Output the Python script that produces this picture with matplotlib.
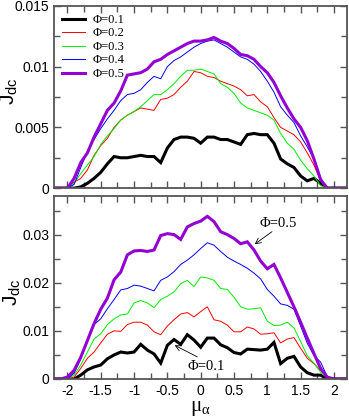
import matplotlib
matplotlib.use("Agg")
import matplotlib.pyplot as plt
import numpy as np
from matplotlib.ticker import MultipleLocator, FuncFormatter

plt.rcParams['font.family'] = ['Liberation Sans', 'DejaVu Sans']
plt.rcParams['axes.unicode_minus'] = False

# chemical potential grid, -2.2 .. 2.2 in steps of 0.1
mu = np.round(np.arange(-2.2, 2.2001, 0.1), 2)

labels = ["Φ=0.1", "Φ=0.2", "Φ=0.3", "Φ=0.4", "Φ=0.5"]
colors = ["black", "#ff0000", "#00ee00", "#0000ff", "#9400d3"]
widths = [2.2, 0.7, 0.7, 0.7, 2.2]

# upper panel
top_01 = [0, 0, 0, 0, 0.0001, 0.0004, 0.0008, 0.0013, 0.0020, 0.0026, 0.0025,
          0.0025, 0.0026, 0.0027, 0.0026, 0.0026, 0.0021, 0.0033, 0.0040, 0.0042,
          0.0042, 0.0041, 0.0037, 0.0042, 0.0042, 0.0040, 0.0040, 0.0038, 0.0036,
          0.0044, 0.0045, 0.0044, 0.0044, 0.0037, 0.0024, 0.0020, 0.0017, 0.0010,
          0.0006, 0.0008, 0.0004, 0, 0, 0, 0]
top_02 = [0, 0, 0, 0.0005, 0.0008, 0.0015, 0.0027, 0.0035, 0.0041, 0.0050, 0.0056,
          0.0060, 0.0063, 0.0066, 0.0065, 0.0064, 0.0073, 0.0074, 0.0077, 0.0083,
          0.0088, 0.0096, 0.0095, 0.0092, 0.0091, 0.0088, 0.0086, 0.0084, 0.0081,
          0.0076, 0.0077, 0.0071, 0.0067, 0.0058, 0.0050, 0.0047, 0.0044, 0.0038,
          0.0029, 0.0019, 0.0006, 0, 0, 0, 0]
top_03 = [0, 0, 0, 0.0004, 0.0012, 0.0019, 0.0026, 0.0036, 0.0043, 0.0049, 0.0056,
          0.0060, 0.0063, 0.0067, 0.0072, 0.0077, 0.0077, 0.0081, 0.0086, 0.0092,
          0.0097, 0.0097, 0.0098, 0.0096, 0.0094, 0.0086, 0.0083, 0.0078, 0.0070,
          0.0066, 0.0064, 0.0062, 0.0060, 0.0056, 0.0045, 0.0037, 0.0032, 0.0023,
          0.0016, 0.0010, 0.0002, 0, 0, 0, 0]
top_04 = [0, 0, 0, 0.0003, 0.0017, 0.0030, 0.0040, 0.0049, 0.0057, 0.0064, 0.0072,
          0.0077, 0.0078, 0.0081, 0.0087, 0.0092, 0.0090, 0.0100, 0.0105, 0.0108,
          0.0112, 0.0116, 0.0119, 0.0121, 0.0122, 0.0119, 0.0116, 0.0112, 0.0108,
          0.0106, 0.0102, 0.0096, 0.0088, 0.0079, 0.0067, 0.0060, 0.0054, 0.0043,
          0.0034, 0.0024, 0.0008, 0, 0, 0, 0]
top_05 = [0, 0, 0, 0.0008, 0.0021, 0.0029, 0.0042, 0.0053, 0.0064, 0.0070, 0.0080,
          0.0093, 0.0094, 0.0095, 0.0098, 0.0104, 0.0106, 0.0110, 0.0113, 0.0116,
          0.0119, 0.0121, 0.0121, 0.0122, 0.0124, 0.0121, 0.0119, 0.0115, 0.0110,
          0.0109, 0.0106, 0.0100, 0.0095, 0.0087, 0.0076, 0.0066, 0.0057, 0.0050,
          0.0039, 0.0024, 0.0007, 0, 0, 0, 0]

# lower panel
bot_01 = [0, 0, 0, 0, 0.0008, 0.0019, 0.0025, 0.0029, 0.0042, 0.0050, 0.0056,
          0.0054, 0.0056, 0.0072, 0.0060, 0.0052, 0.0033, 0.0070, 0.0082, 0.0072,
          0.0092, 0.0081, 0.0066, 0.0085, 0.0085, 0.0071, 0.0065, 0.0055, 0.0052,
          0.0062, 0.0061, 0.0060, 0.0062, 0.0076, 0.0032, 0.0043, 0.0047, 0.0025,
          0.0013, 0.0008, 0.0008, 0, 0, 0, 0]
bot_02 = [0, 0, 0, 0.0004, 0.0022, 0.0043, 0.0056, 0.0075, 0.0093, 0.0100, 0.0099,
          0.0113, 0.0118, 0.0118, 0.0112, 0.0098, 0.0092, 0.0110, 0.0123, 0.0135,
          0.0138, 0.0129, 0.0140, 0.0150, 0.0123, 0.0120, 0.0112, 0.0098, 0.0098,
          0.0108, 0.0104, 0.0093, 0.0094, 0.0096, 0.0075, 0.0083, 0.0086, 0.0064,
          0.0043, 0.0032, 0.0018, 0.0005, 0, 0, 0]
bot_03 = [0, 0, 0, 0.0008, 0.0029, 0.0056, 0.0083, 0.0094, 0.0113, 0.0125, 0.0133,
          0.0135, 0.0158, 0.0163, 0.0158, 0.0148, 0.0165, 0.0172, 0.0181, 0.0198,
          0.0205, 0.0192, 0.0212, 0.0210, 0.0205, 0.0188, 0.0186, 0.0170, 0.0150,
          0.0145, 0.0146, 0.0148, 0.0120, 0.0111, 0.0112, 0.0118, 0.0106, 0.0078,
          0.0048, 0.0033, 0.0014, 0.0002, 0, 0, 0]
bot_04 = [0, 0, 0, 0.0012, 0.0042, 0.0083, 0.0113, 0.0125, 0.0146, 0.0165, 0.0185,
          0.0188, 0.0195, 0.0193, 0.0188, 0.0183, 0.0205, 0.0212, 0.0223, 0.0238,
          0.0247, 0.0258, 0.0271, 0.0283, 0.0278, 0.0265, 0.0253, 0.0245, 0.0238,
          0.0230, 0.0220, 0.0208, 0.0186, 0.0172, 0.0156, 0.0153, 0.0145, 0.0110,
          0.0074, 0.0049, 0.0035, 0.0005, 0, 0, 0]
bot_05 = [0, 0, 0.0004, 0.0018, 0.0045, 0.0080, 0.0115, 0.0145, 0.0168, 0.0206, 0.0222,
          0.0258, 0.0266, 0.0267, 0.0265, 0.0268, 0.0298, 0.0302, 0.0300, 0.0290,
          0.0316, 0.0323, 0.0328, 0.0338, 0.0327, 0.0306, 0.0300, 0.0292, 0.0281,
          0.0285, 0.0268, 0.0245, 0.0229, 0.0238, 0.0210, 0.0180, 0.0150, 0.0118,
          0.0085, 0.0053, 0.0022, 0.0004, 0, 0, 0]

top_series = [top_01, top_02, top_03, top_04, top_05]
bot_series = [bot_01, bot_02, bot_03, bot_04, bot_05]

frame = '#555555'
serif = ['Liberation Serif', 'DejaVu Serif']
fmt = FuncFormatter(lambda v, p: f'{v:g}')

fig = plt.figure(figsize=(3.49, 4.19), dpi=100)
ax1 = fig.add_axes([0.155, 0.551, 0.84, 0.435])
ax2 = fig.add_axes([0.155, 0.0955, 0.84, 0.4365])

for ax, series in ((ax1, top_series), (ax2, bot_series)):
    for y, c, lw, lab in zip(series, colors, widths, labels):
        ax.plot(mu, y, color=c, lw=lw, label=lab, solid_joinstyle='miter')
    ax.set_xlim(-2.2, 2.2)
    ax.xaxis.set_major_locator(MultipleLocator(0.5))
    ax.xaxis.set_minor_locator(MultipleLocator(0.25))
    ax.tick_params(which='both', direction='in', top=True, right=True,
                   colors=frame, labelcolor='black', labelsize=10, width=1.0)
    ax.tick_params(which='major', length=5)
    ax.tick_params(which='minor', length=4)
    ax.xaxis.set_major_formatter(fmt)
    ax.yaxis.set_major_formatter(fmt)
    for s in ax.spines.values():
        s.set_color(frame)
        s.set_linewidth(1.3)

ax1.set_ylim(0, 0.015)
ax1.yaxis.set_major_locator(MultipleLocator(0.005))
ax1.yaxis.set_minor_locator(MultipleLocator(0.0025))
ax1.tick_params(labelbottom=False)

ax2.set_ylim(0, 0.038)
ax2.yaxis.set_major_locator(MultipleLocator(0.01))
ax2.yaxis.set_minor_locator(MultipleLocator(0.005))

ax1.set_ylabel(r'$\mathregular{J_{dc}}$', fontsize=15)
ax1.yaxis.set_label_coords(-0.115, 0.53)
ax2.set_ylabel(r'$\mathregular{J_{dc}}$', fontsize=15)
ax2.yaxis.set_label_coords(-0.105, 0.475)
ax2.set_xlabel(r'$\mathregular{μ_{α}}$', fontsize=15, labelpad=1, family=serif)

ax1.legend(loc='upper left', frameon=False, handlelength=1.8, handletextpad=0.6,
           labelspacing=0.12, borderaxespad=0.25,
           prop={'family': serif, 'size': 9})

arrow = dict(arrowstyle='->', lw=0.6, color='black', shrinkA=0, shrinkB=0)
ax2.annotate('', xy=(0.81, 0.0280), xytext=(1.07, 0.0306), arrowprops=arrow)
ax2.text(0.88, 0.0323, 'Φ=0.5', family=serif, fontsize=10.5, va='center', ha='left')
ax2.annotate('', xy=(-0.39, 0.0070), xytext=(-0.05, 0.0046), arrowprops=arrow)
ax2.text(-0.20, 0.0025, 'Φ=0.1', family=serif, fontsize=10.5, va='center', ha='left')

fig.savefig('out.png', dpi=100)
